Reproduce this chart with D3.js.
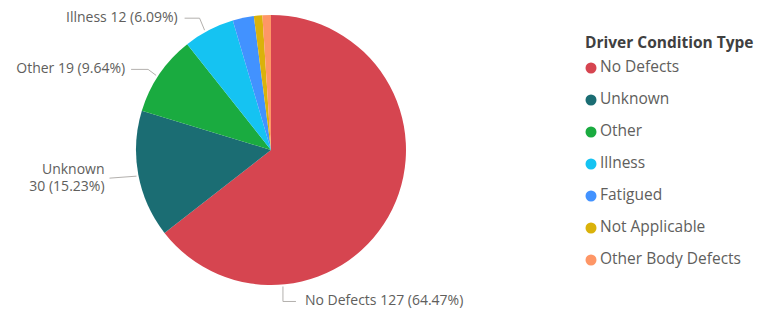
<!DOCTYPE html>
<html lang="en">
<head>
<meta charset="utf-8">
<script src="https://d3js.org/d3.v7.min.js"></script>
<style>
  body { margin: 0; background: #fff; }
  text { font-family: "Segoe UI", "Open Sans", "Noto Sans", sans-serif; }
</style>
</head>
<body>
<div id="chart"></div>
<script>
const categories = ["No Defects", "Unknown", "Other", "Illness", "Fatigued", "Not Applicable", "Other Body Defects"];
const counts = [127, 30, 19, 12, 5, 2, 2];
const colors = ["#D64550", "#1B6D73", "#1AAB40", "#15C3F2", "#4292FF", "#DAB20A", "#FE9666"];

const width = 759, height = 318;
const cx = 271, cy = 150, radius = 135;

const svg = d3.select("#chart")
  .append("svg")
    .attr("width", width)
    .attr("height", height);

const total = d3.sum(counts);
const data = categories.map((c, i) => ({ name: c, value: counts[i], color: colors[i] }));

const pie = d3.pie().value(d => d.value).sort(null);
const arc = d3.arc().innerRadius(0).outerRadius(radius);
const arcs = pie(data);

const g = svg.append("g").attr("transform", `translate(${cx},${cy})`);

g.selectAll("path")
  .data(arcs)
  .enter()
  .append("path")
    .attr("d", arc)
    .attr("fill", d => d.data.color);

const pct = v => (v / total * 100).toFixed(2) + "%";

// leader lines: where on the rim (deg, clockwise from top) and the elbow path from there
const labelled = [
  { i: 0, deg: 175, legs: [[0, 15], [13, 0]], gap: 9, anchor: "start" },
  { i: 1, deg: 259, legs: [[-27, 2]], gap: 5, anchor: "end" },
  { i: 2, deg: 303, legs: [[-8, -6], [-17, 0]], gap: 6, anchor: "end" },
  { i: 3, deg: 331, legs: [[-5, -12], [-15, 0]], gap: 7, anchor: "end" }
];

labelled.forEach(l => {
  const ang = l.deg * Math.PI / 180;
  let x = Math.sin(ang) * (radius + 2);
  let y = -Math.cos(ang) * (radius + 2);
  const pts = [[x, y]];
  l.legs.forEach(([dx, dy]) => { x += dx; y += dy; pts.push([x, y]); });

  g.append("path")
    .attr("d", d3.line()(pts))
    .attr("fill", "none")
    .attr("stroke", "#B3B0AD")
    .attr("stroke-width", 1);

  const tx = l.anchor === "start" ? x + l.gap : x - l.gap;
  const d = arcs[l.i].data;
  const t = g.append("text")
    .attr("x", tx)
    .attr("y", y)
    .attr("text-anchor", l.anchor)
    .attr("dominant-baseline", "middle")
    .style("font-size", "14px")
    .style("fill", "#605E5C");
  if (l.i === 1) {
    t.append("tspan").attr("x", tx).attr("dy", "-0.6em").text(d.name);
    t.append("tspan").attr("x", tx).attr("dy", "1.25em").text(`${d.value} (${pct(d.value)})`);
  } else {
    t.text(`${d.name} ${d.value} (${pct(d.value)})`);
  }
});

// legend
const legend = svg.append("g").attr("transform", "translate(585,44)");
legend.append("text")
  .attr("x", 0)
  .attr("y", 0)
  .attr("dominant-baseline", "middle")
  .style("font-size", "15.5px")
  .style("font-weight", "bold")
  .style("fill", "#404040")
  .text("Driver Condition Type");

const items = legend.selectAll(".item")
  .data(data)
  .enter()
  .append("g")
    .attr("transform", (d, i) => `translate(0,${24 + i * 32})`);

items.append("circle")
  .attr("cx", 6)
  .attr("cy", 0)
  .attr("r", 5.5)
  .attr("fill", d => d.color);

items.append("text")
  .attr("x", 15)
  .attr("y", 0)
  .attr("dominant-baseline", "middle")
  .style("font-size", "15.5px")
  .style("fill", "#605E5C")
  .text(d => d.name);
</script>
</body>
</html>
